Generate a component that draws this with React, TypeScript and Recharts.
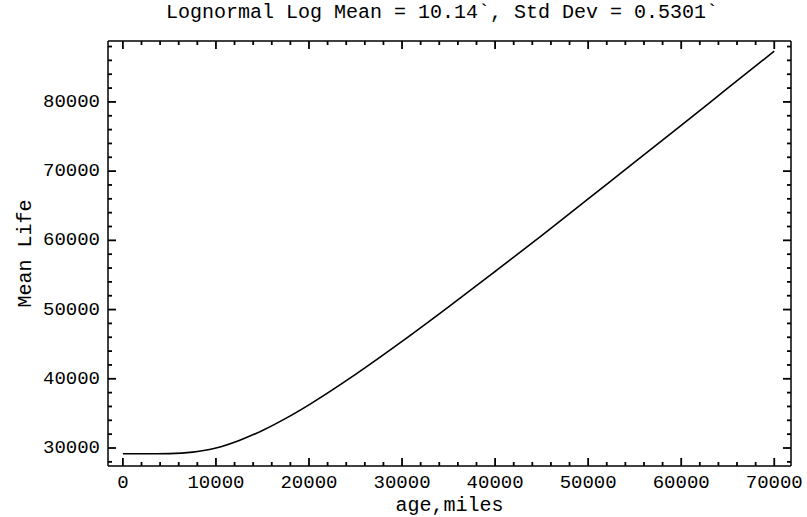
import React from 'react';
import { LineChart, Line, XAxis, YAxis, ReferenceLine } from 'recharts';

// values
const ages = [0, 2500, 5000, 7500, 10000, 12500, 15000, 17500, 20000, 25000, 30000, 35000, 40000, 45000, 50000, 55000, 60000, 65000, 70000];
const meanLife = [29160, 29160, 29190, 29410, 30000, 31090, 32530, 34280, 36240, 40630, 45390, 50380, 55500, 60680, 65990, 71290, 76620, 81980, 87330];

const xMajor = [0, 10000, 20000, 30000, 40000, 50000, 60000, 70000];
const yMajor = [30000, 40000, 50000, 60000, 70000, 80000];
const xTicks = Array.from({ length: 36 }, (_, i) => i * 2000);
const yTicks = Array.from({ length: 31 }, (_, i) => 28000 + i * 2000);

const X_DOMAIN: [number, number] = [-1600, 71800];
const Y_DOMAIN: [number, number] = [27400, 88800];

const W = 807;
const H = 517;
const TOP = 41;
const BOTTOM = 466;
const LEFT = 108;
const RIGHT = 791;

const FONT = "'Liberation Mono', 'Courier New', monospace";

const data = ages.map((a, i) => ({ age: a, life: meanLife[i] }));

// data units per screen pixel, used for the inward frame ticks
const unitX = (X_DOMAIN[1] - X_DOMAIN[0]) / (RIGHT - LEFT);
const unitY = (Y_DOMAIN[1] - Y_DOMAIN[0]) / (BOTTOM - TOP);

const XTick = (props: any) => {
  const { x, payload } = props;
  const v = payload.value;
  if (!xMajor.includes(v)) return <g />;
  return (
    <text x={x} y={BOTTOM + 17} textAnchor="middle" dominantBaseline="central" fontFamily={FONT} fontSize={19} fill="#000">
      {v}
    </text>
  );
};

const YTick = (props: any) => {
  const { y, payload } = props;
  const v = payload.value;
  if (!yMajor.includes(v)) return <g />;
  return (
    <text x={LEFT - 8} y={y} textAnchor="end" dominantBaseline="central" fontFamily={FONT} fontSize={19} fill="#000">
      {v}
    </text>
  );
};

const tickStyle = { stroke: '#000', strokeWidth: 1.8, ifOverflow: 'visible' as const };

export default function App() {
  return (
    <div style={{ position: 'absolute', left: 0, top: 0, width: W, height: H, background: '#fff' }}>
      <div
        style={{
          position: 'absolute',
          left: 442,
          top: 3,
          transform: 'translateX(-50%)',
          whiteSpace: 'nowrap',
          fontFamily: FONT,
          fontSize: 20,
          lineHeight: '20px',
          color: '#000',
        }}
      >
        Lognormal Log Mean = 10.14`, Std Dev = 0.5301`
      </div>
      <LineChart width={W} height={H} data={data} margin={{ top: TOP, right: W - RIGHT, bottom: 0, left: 0 }}>
        <XAxis
          dataKey="age"
          type="number"
          domain={X_DOMAIN}
          ticks={xTicks}
          interval={0}
          tickLine={false}
          tickSize={0}
          height={H - BOTTOM}
          axisLine={{ stroke: '#000', strokeWidth: 1.5 }}
          tick={(p: any) => <XTick {...p} />}
          label={{ value: 'age,miles', position: 'insideBottom', offset: 6, fill: '#000', fontFamily: FONT, fontSize: 20 }}
        />
        <YAxis
          type="number"
          domain={Y_DOMAIN}
          ticks={yTicks}
          interval={0}
          tickLine={false}
          tickSize={0}
          width={LEFT}
          axisLine={{ stroke: '#000', strokeWidth: 1.5 }}
          tick={(p: any) => <YTick {...p} />}
          label={{ value: 'Mean Life', angle: -90, position: 'insideLeft', offset: 24, fill: '#000', fontFamily: FONT, fontSize: 20, style: { textAnchor: 'middle' } }}
        />
        <ReferenceLine y={Y_DOMAIN[1]} stroke="#000" strokeWidth={1.5} />
        <ReferenceLine x={X_DOMAIN[1]} stroke="#000" strokeWidth={1.5} />
        {xTicks.map((v) => {
          const len = (xMajor.includes(v) ? 8 : 4) * unitY;
          return (
            <React.Fragment key={`xt${v}`}>
              <ReferenceLine segment={[{ x: v, y: Y_DOMAIN[0] }, { x: v, y: Y_DOMAIN[0] + len }]} {...tickStyle} />
              <ReferenceLine segment={[{ x: v, y: Y_DOMAIN[1] }, { x: v, y: Y_DOMAIN[1] - len }]} {...tickStyle} />
            </React.Fragment>
          );
        })}
        {yTicks.map((v) => {
          const len = (yMajor.includes(v) ? 8 : 4) * unitX;
          return (
            <React.Fragment key={`yt${v}`}>
              <ReferenceLine segment={[{ x: X_DOMAIN[0], y: v }, { x: X_DOMAIN[0] + len, y: v }]} {...tickStyle} />
              <ReferenceLine segment={[{ x: X_DOMAIN[1], y: v }, { x: X_DOMAIN[1] - len, y: v }]} {...tickStyle} />
            </React.Fragment>
          );
        })}
        <Line type="monotone" dataKey="life" stroke="#000" strokeWidth={1.6} dot={false} isAnimationActive={false} />
      </LineChart>
    </div>
  );
}
